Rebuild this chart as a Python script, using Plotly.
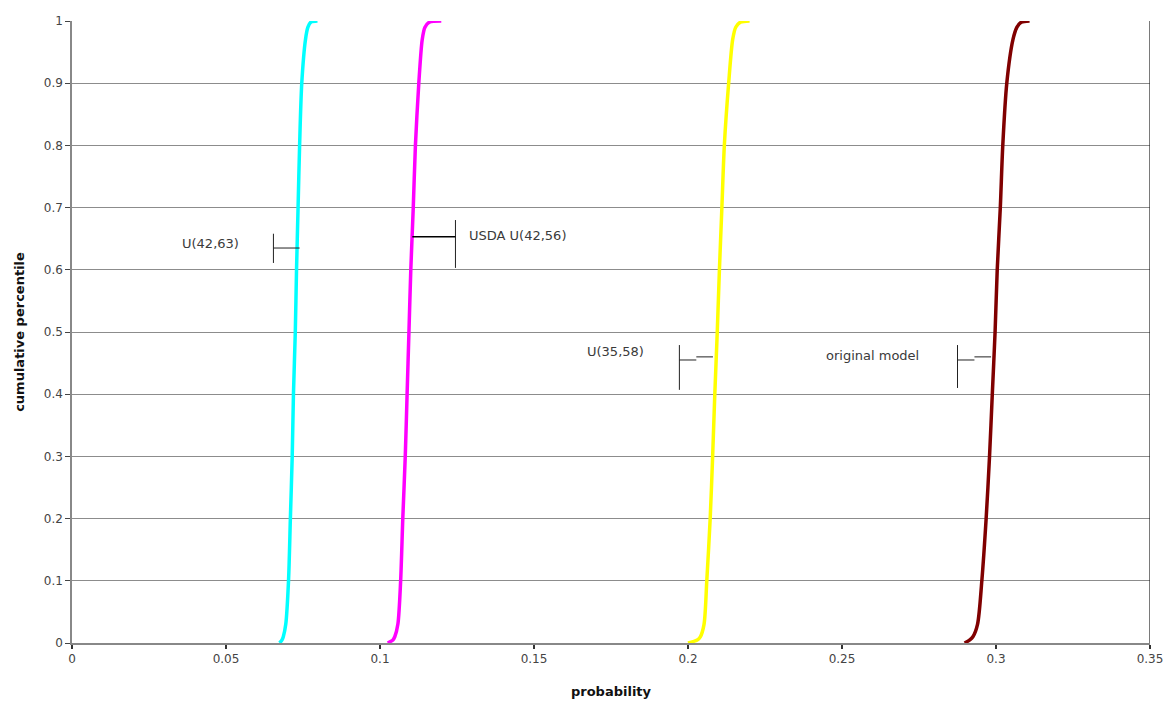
import plotly.graph_objects as go

# Cumulative percentile levels shared by every curve
percentile = [0, 0.005, 0.01, 0.03, 0.1, 0.2, 0.3, 0.4, 0.5, 0.6, 0.7, 0.8, 0.9, 0.97, 0.99, 0.998, 1.0]

# Probability values at each percentile, one list per scenario
u_42_63 = [0.0674, 0.0682, 0.0686, 0.0694, 0.0703, 0.0709, 0.0715, 0.0719, 0.0725, 0.0729,
           0.0734, 0.0739, 0.0746, 0.0758, 0.0766, 0.0775, 0.0797]
usda_u_42_56 = [0.1025, 0.1042, 0.1048, 0.1058, 0.1067, 0.1074, 0.1082, 0.1088, 0.1094, 0.1100,
                0.1108, 0.1115, 0.1126, 0.1137, 0.1146, 0.1160, 0.1199]
u_35_58 = [0.2000, 0.2030, 0.2040, 0.2052, 0.2061, 0.2072, 0.2080, 0.2087, 0.2095, 0.2102,
           0.2110, 0.2118, 0.2132, 0.2145, 0.2155, 0.2170, 0.2200]
original_model = [0.2898, 0.2915, 0.2925, 0.2940, 0.2954, 0.2968, 0.2979, 0.2988, 0.2997, 0.3004,
                  0.3014, 0.3022, 0.3035, 0.3055, 0.3068, 0.3082, 0.3109]

x_ticks = [0, 0.05, 0.1, 0.15, 0.2, 0.25, 0.3, 0.35]
x_tick_text = ["0", "0.05", "0.1", "0.15", "0.2", "0.25", "0.3", "0.35"]
y_ticks = [0, 0.1, 0.2, 0.3, 0.4, 0.5, 0.6, 0.7, 0.8, 0.9, 1]
y_tick_text = ["0", "0.1", "0.2", "0.3", "0.4", "0.5", "0.6", "0.7", "0.8", "0.9", "1"]

series = [
    ("U(42,63)", u_42_63, "#00FFFF"),
    ("USDA U(42,56)", usda_u_42_56, "#FF00FF"),
    ("U(35,58)", u_35_58, "#FFFF00"),
    ("original model", original_model, "#800000"),
]

fig = go.Figure()
for name, xs, color in series:
    fig.add_trace(go.Scatter(
        x=xs, y=percentile, mode="lines", name=name,
        line=dict(color=color, width=3.5, shape="spline", smoothing=0.8),
        showlegend=False,
    ))

label_font = dict(family="DejaVu Sans, Arial, sans-serif", size=13, color="#3a3a3a")
line_style = dict(color="#222222", width=1)

shapes = [
    # U(42,63) callout
    dict(type="line", x0=0.0654, x1=0.0654, y0=0.611, y1=0.658, line=line_style),
    dict(type="line", x0=0.0654, x1=0.0739, y0=0.635, y1=0.635, line=line_style),
    # USDA U(42,56) callout
    dict(type="line", x0=0.1245, x1=0.1245, y0=0.603, y1=0.680, line=line_style),
    dict(type="line", x0=0.1105, x1=0.1245, y0=0.653, y1=0.653, line=dict(color="#000000", width=1.5)),
    # U(35,58) callout
    dict(type="line", x0=0.1972, x1=0.1972, y0=0.407, y1=0.479, line=line_style),
    dict(type="line", x0=0.1972, x1=0.2027, y0=0.455, y1=0.455, line=line_style),
    dict(type="line", x0=0.2027, x1=0.2081, y0=0.460, y1=0.460, line=line_style),
    # original model callout
    dict(type="line", x0=0.2875, x1=0.2875, y0=0.410, y1=0.479, line=line_style),
    dict(type="line", x0=0.2875, x1=0.2930, y0=0.455, y1=0.455, line=line_style),
    dict(type="line", x0=0.2930, x1=0.2984, y0=0.460, y1=0.460, line=line_style),
    # right border of the plot area
    dict(type="line", xref="x", yref="y", x0=0.35, x1=0.35, y0=0, y1=1,
         line=dict(color="#222222", width=1.2)),
]

annotations = [
    dict(x=0.0450, y=0.643, text="U(42,63)", showarrow=False, xanchor="center", font=label_font),
    dict(x=0.1284, y=0.655, text="USDA U(42,56)", showarrow=False, xanchor="left", font=label_font),
    dict(x=0.1765, y=0.468, text="U(35,58)", showarrow=False, xanchor="center", font=label_font),
    dict(x=0.2599, y=0.463, text="original model", showarrow=False, xanchor="center", font=label_font),
]

tick_font = dict(family="DejaVu Sans, Arial, sans-serif", size=12, color="#444444")
title_font = dict(family="DejaVu Sans, Arial, sans-serif", size=13, color="#111111")

fig.update_layout(
    width=1168, height=702,
    margin=dict(l=72, r=18, t=21, b=59),
    paper_bgcolor="white", plot_bgcolor="white",
    shapes=shapes, annotations=annotations,
    xaxis=dict(
        range=[0, 0.35], tickvals=x_ticks, ticktext=x_tick_text,
        showgrid=False, zeroline=False, automargin=False,
        ticklabeloverflow="allow",
        showline=True, linecolor="#888888", linewidth=1.5,
        ticks="outside", ticklen=4, tickcolor="#333333", tickwidth=1.5,
        tickfont=tick_font,
        title=dict(text="<b>probability</b>", font=title_font, standoff=22),
    ),
    yaxis=dict(
        range=[0, 1], tickvals=y_ticks, ticktext=y_tick_text,
        showgrid=True, gridcolor="#8c8c8c", gridwidth=1.2, zeroline=False,
        automargin=False,
        showline=True, linecolor="#888888", linewidth=1.5,
        ticks="outside", ticklen=5, tickcolor="#444444",
        tickfont=tick_font,
        title=dict(text="<b>cumulative percentile</b>", font=title_font, standoff=16),
    ),
)

fig.write_html("out.html")
